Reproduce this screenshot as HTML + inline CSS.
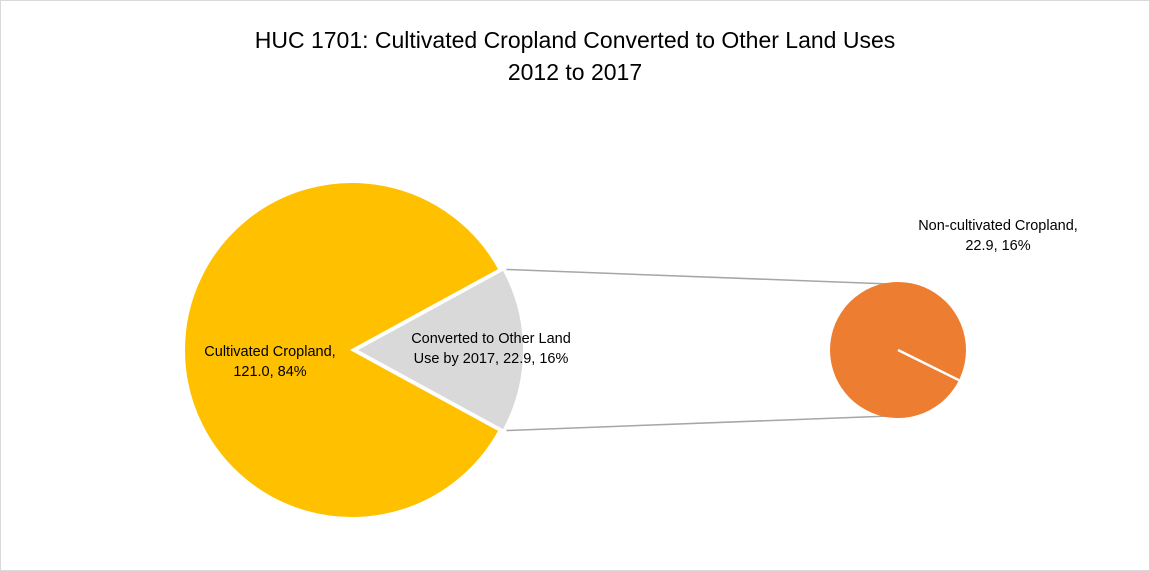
<!DOCTYPE html>
<html><head><meta charset="utf-8"><style>
html,body{margin:0;padding:0;background:#fff}
svg{display:block;font-family:"Liberation Sans",sans-serif}
</style></head><body>
<svg id="c" width="1150" height="571" viewBox="0 0 1150 571">
<rect x="0.5" y="0.5" width="1149" height="570" fill="#fff" stroke="#d9d9d9"/>
<text x="575" y="48" text-anchor="middle" font-size="23" fill="#000">HUC 1701: Cultivated Cropland Converted to Other Land Uses</text>
<text x="575" y="80" text-anchor="middle" font-size="23" fill="#000">2012 to 2017</text>
<g id="g"></g>
</svg>
<script>
const mainCategories=["Cultivated Cropland","Converted to Other Land Use by 2017"];
const mainValues=[121.0,22.9];
const secondaryCategories=["Non-cultivated Cropland"];
const secondaryValues=[22.9];
const NS="http://www.w3.org/2000/svg";
const g=document.getElementById('g');
function mk(t,a){const e=document.createElementNS(NS,t);for(const k in a)e.setAttribute(k,a[k]);g.appendChild(e);return e;}
const cx=352,cy=350,R=168,sx=898,sy=350,r=68;
const total=mainValues.reduce((a,b)=>a+b,0);
const otherFrac=mainValues[1]/total;
const half=otherFrac*Math.PI;
function pt(x,y,rad,a){return [x+rad*Math.cos(a),y+rad*Math.sin(a)];}
// main big slice
let a0=half,a1=2*Math.PI-half;
let p0=pt(cx,cy,R,a0),p1=pt(cx,cy,R,a1);
let big=(a1-a0)>Math.PI?1:0;
let s1=mk('path',{d:`M${cx},${cy}L${p0[0]},${p0[1]}A${R},${R} 0 ${big} 1 ${p1[0]},${p1[1]}Z`,fill:'#ffc000',stroke:'#fff','stroke-width':2});


// other slice (slightly exploded)
const ox=cx+4;
let q0=pt(ox,cy,R,-half),q1=pt(ox,cy,R,half);
let s2=mk('path',{d:`M${ox},${cy}L${q0[0]},${q0[1]}A${R},${R} 0 0 1 ${q1[0]},${q1[1]}Z`,fill:'#d9d9d9',stroke:'#fff','stroke-width':2});


// connectors
let c1=mk('line',{x1:q0[0]+3,y1:q0[1],x2:sx-8,y2:sy-r+2,stroke:'#a6a6a6','stroke-width':1.5});


let c2=mk('line',{x1:q1[0]+3,y1:q1[1],x2:sx-8,y2:sy+r-2,stroke:'#a6a6a6','stroke-width':1.5});


// secondary pie
const stot=secondaryValues.reduce((a,b)=>a+b,0);
let start=0.46;
secondaryValues.forEach((v,i)=>{
  const f=v/stot;
  let e;
  if(f>=0.9999){
    e=mk('circle',{cx:sx,cy:sy,r:r,fill:'#ed7d31'});
    const p=pt(sx,sy,r,start);
    const ln=mk('line',{x1:sx,y1:sy,x2:p[0],y2:p[1],stroke:'#fff','stroke-width':2.5});
    
    
  } else {
    const e0=start,e1=start+f*2*Math.PI;const A=pt(sx,sy,r,e0),B=pt(sx,sy,r,e1);
    e=mk('path',{d:`M${sx},${sy}L${A[0]},${A[1]}A${r},${r} 0 ${f>0.5?1:0} 1 ${B[0]},${B[1]}Z`,fill:'#ed7d31',stroke:'#fff','stroke-width':2});
    start=e1;
  }
  
  
});
function pct(v){return Math.round(v/total*100)+'%';}
function label(lines,x,y,name){
  const t=mk('text',{x:x,y:y,'text-anchor':'middle','font-size':14.5,fill:'#000'});
  
  
  lines.forEach((l,i)=>{const ts=document.createElementNS(NS,'tspan');ts.setAttribute('x',x);ts.setAttribute('dy',i?20:0);ts.textContent=l;t.appendChild(ts);});
}
label([mainCategories[0]+',',mainValues[0].toFixed(1)+', '+pct(mainValues[0])],270,356,'label-cultivated-cropland');
label(['Converted to Other Land','Use by 2017, '+mainValues[1].toFixed(1)+', '+pct(mainValues[1])],491,343,'label-converted-other-land-use');
label([secondaryCategories[0]+',',secondaryValues[0].toFixed(1)+', '+pct(secondaryValues[0])],998,230,'label-non-cultivated-cropland');
</script>
</body></html>
